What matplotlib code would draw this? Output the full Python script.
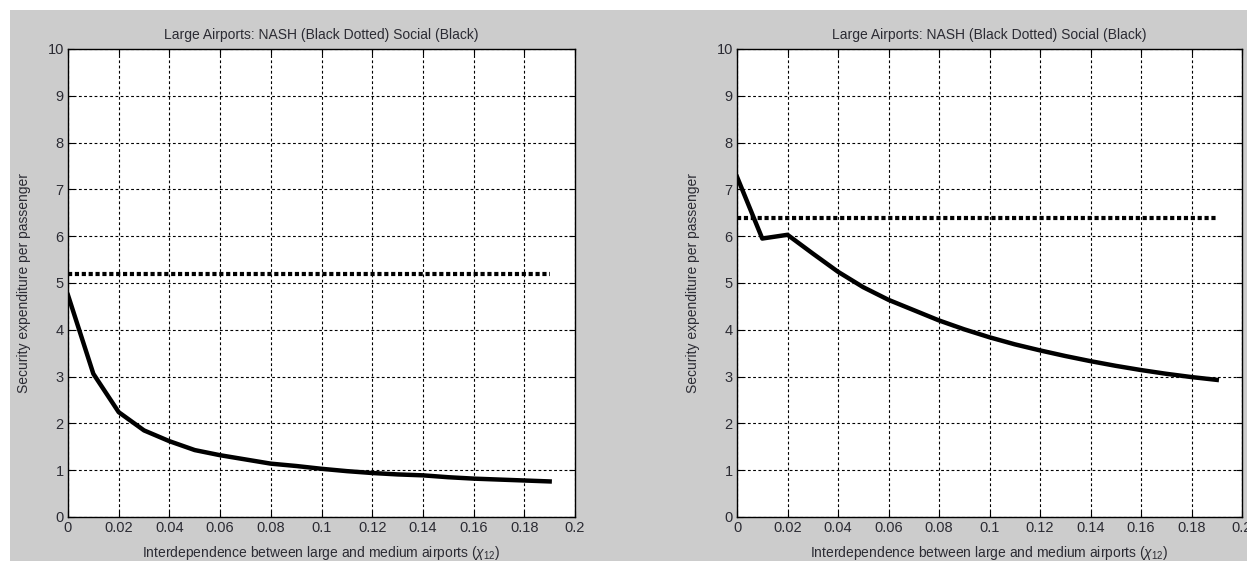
'''two panels: security expenditure vs interdependence, nash vs social
'''
import matplotlib
matplotlib.use('Agg')
import matplotlib.pyplot as plt
from matplotlib.patches import Rectangle

plt.rcParams['font.family'] = ['Liberation Sans', 'DejaVu Sans']
plt.rcParams['mathtext.fontset'] = 'custom'
plt.rcParams['mathtext.rm'] = 'Liberation Sans'
plt.rcParams['mathtext.it'] = 'Liberation Sans:italic'

chi = [0.0, 0.01, 0.02, 0.03, 0.04, 0.05, 0.06, 0.07, 0.08, 0.09,
       0.10, 0.11, 0.12, 0.13, 0.14, 0.15, 0.16, 0.17, 0.18, 0.19]
social_left = [4.74, 3.06, 2.24, 1.85, 1.62, 1.43, 1.32, 1.23, 1.14, 1.09,
               1.03, 0.98, 0.94, 0.91, 0.89, 0.85, 0.82, 0.80, 0.78, 0.76]
nash_left = [5.2] * len(chi)
social_right = [7.27, 5.95, 6.03, 5.63, 5.24, 4.91, 4.64, 4.42, 4.20, 4.01,
                3.84, 3.69, 3.56, 3.44, 3.33, 3.23, 3.14, 3.06, 2.99, 2.93]
nash_right = [6.38] * len(chi)

xticks = [0, 0.02, 0.04, 0.06, 0.08, 0.1, 0.12, 0.14, 0.16, 0.18, 0.2]
yticks = list(range(0, 11))
title = 'Large Airports: NASH (Black Dotted) Social (Black)'
xlabel = 'Interdependence between large and medium airports ($\\chi_{12}$)'
ylabel = 'Security expenditure per passenger'

W, H = 1247, 561
fig = plt.figure(figsize=(W / 100, H / 100), dpi=100, facecolor='white')
fig.patches.append(Rectangle((10 / W, 0), 1, (H - 10) / H, transform=fig.transFigure,
                             facecolor='#cccccc', edgecolor='none', zorder=-10))

panels = [
    ((68, 575), social_left, nash_left),
    ((737, 1242), social_right, nash_right),
]
txt_color = '#2b2b33'
for (x0, x1), social, nash in panels:
    ax = fig.add_axes([x0 / W, 1 - 517 / H, (x1 - x0) / W, (517 - 49) / H])
    ax.set_zorder(1)
    ax.set_facecolor('white')
    ax.plot(chi, nash, color='black', linewidth=3, linestyle=(0, (1, 0.65)),
            dash_capstyle='butt')
    ax.plot(chi, social, color='black', linewidth=3.2, solid_joinstyle='round')
    ax.set_xlim(0, 0.2)
    ax.set_ylim(0, 10)
    ax.set_xticks(xticks)
    ax.set_xticklabels(['%g' % t for t in xticks])
    ax.set_yticks(yticks)
    ax.grid(True, color='black', linestyle=(0, (2.5, 2.2)), linewidth=0.8)
    ax.tick_params(direction='in', length=4, width=0.8, top=True, right=True,
                   labelsize=10.5, labelcolor=txt_color, pad=3)
    for s in ax.spines.values():
        s.set_linewidth(1.0)
        s.set_color('black')
    ax.set_title(title, fontsize=10, color=txt_color, pad=7)
    ax.set_xlabel(xlabel, fontsize=10, color=txt_color)
    ax.xaxis.set_label_coords(0.5, -0.058)
    ax.set_ylabel(ylabel, fontsize=10, color=txt_color)
    ax.yaxis.set_label_coords(-0.073, 0.5)

fig.savefig('out.png', dpi=100, facecolor=fig.get_facecolor())
